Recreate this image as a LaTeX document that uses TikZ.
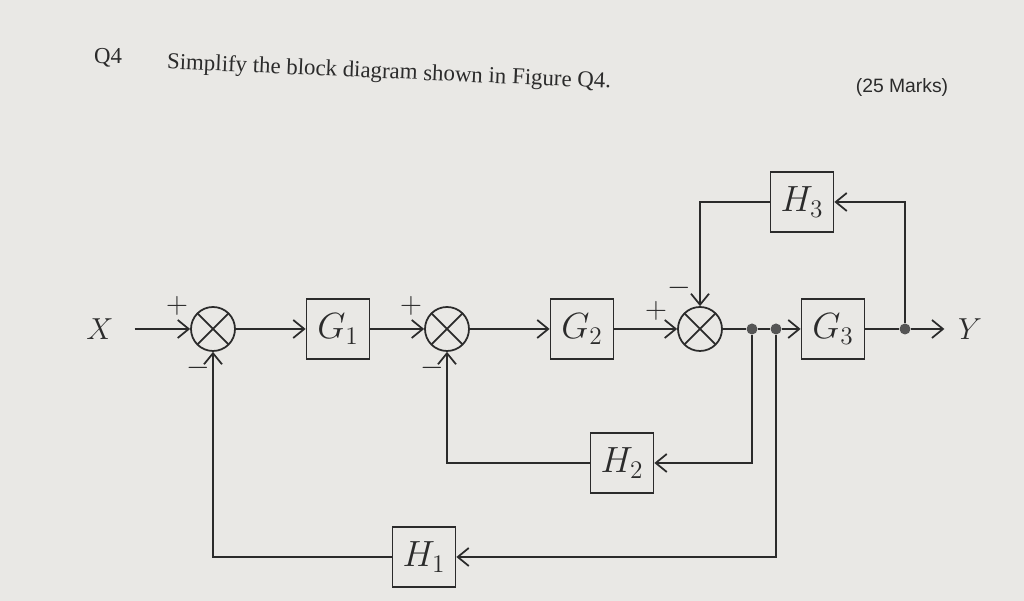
\documentclass[tikz,border=0pt]{standalone}
\usepackage{fontspec}
\setmainfont{Liberation Serif}
\newfontfamily\marksfont{Liberation Sans}
\usetikzlibrary{arrows.meta,calc,positioning}
\definecolor{paper}{HTML}{E9E8E5}
\definecolor{ink}{HTML}{2B2B2B}
\definecolor{dotgray}{HTML}{555555}
\tikzset{sig/.style={-{Straight Barb[length=2.2mm,width=3.6mm]}, line width=1pt, color=ink}, wire/.style={line width=1pt, color=ink}, blk/.style={draw=ink, line width=1pt, minimum width=12.6mm, minimum height=12mm, font=\fontsize{21}{24}\selectfont, text=ink}, sumj/.style={circle, draw=ink, line width=1pt, minimum size=8.8mm, inner sep=0pt, path picture={\draw[ink, line width=1pt] (path picture bounding box.north west)--(path picture bounding box.south east) (path picture bounding box.north east)--(path picture bounding box.south west);}}, tap/.style={circle, fill=dotgray, inner sep=0pt, minimum size=2.2mm}, sgn/.style={font=\fontsize{16}{18}\selectfont, text=ink}, io/.style={font=\fontsize{19}{22}\selectfont, text=ink}}

\begin{document}
\begin{tikzpicture}
\fill[paper] (0,0) rectangle (20.48,12.02);
\useasboundingbox (0,0) rectangle (20.48,12.02);
% header
\node[anchor=west, font=\fontsize{13}{15}\selectfont, text=ink] (q) at (1.76,10.86) {Q4};
\node[anchor=west, rotate=-2.5, font=\fontsize{13}{15}\selectfont, text=ink] (task) at (3.22,10.76) {Simplify the block diagram shown in Figure Q4.};
\node[font=\marksfont\fontsize{11}{13}\selectfont, text=ink] (marks) at (18.04,10.26) {(25 Marks)};
% forward path
\node[io] (x) at (2.0,5.44) {$X$};
\node[sumj] (s1) at (4.26,5.44) {};
\node[blk] (g1) at (6.76,5.44) {$G_1$};
\node[sumj] (s2) at (8.94,5.44) {};
\node[blk] (g2) at (11.64,5.44) {$G_2$};
\node[sumj] (s3) at (14.0,5.44) {};
\node[tap] (pa) at (15.04,5.44) {};
\node[tap] (pb) at (15.52,5.44) {};
\node[blk] (g3) at (16.66,5.44) {$G_3$};
\node[tap] (pc) at (18.1,5.44) {};
\node[io] (y) at (19.4,5.44) {$Y$};
% feedback blocks
\node[blk] (h3) at (16.04,7.98) {$H_3$};
\node[blk] (h2) at (12.44,2.76) {$H_2$};
\node[blk] (h1) at (8.48,0.88) {$H_1$};
% signs
\node[sgn] (p1) at ($(s1)+(-0.72,0.46)$) {$+$};
\node[sgn] (m1) at ($(s1)+(-0.3,-0.78)$) {$-$};
\node[sgn] (p2) at ($(s2)+(-0.72,0.46)$) {$+$};
\node[sgn] (m2) at ($(s2)+(-0.3,-0.78)$) {$-$};
\node[sgn] (p3) at ($(s3)+(-0.88,0.36)$) {$+$};
\node[sgn] (m3) at ($(s3)+(-0.42,0.82)$) {$-$};
% connectors
\draw[sig, shorten <=3mm] (x) -- (s1);
\draw[sig] (s1) -- (g1);
\draw[sig] (g1) -- (s2);
\draw[sig] (s2) -- (g2);
\draw[sig] (g2) -- (s3);
\draw[wire] (s3) -- (pa) -- (pb);
\draw[sig] (pb) -- (g3);
\draw[wire] (g3) -- (pc);
\draw[sig, shorten >=1.5mm] (pc) -- (y);
\draw[sig] (pc) |- (h3);
\draw[sig] (h3) -| (s3);
\draw[sig] (pa) |- (h2);
\draw[sig] (h2) -| (s2);
\draw[sig] (pb) |- (h1);
\draw[sig] (h1) -| (s1);
\end{tikzpicture}
\end{document}
